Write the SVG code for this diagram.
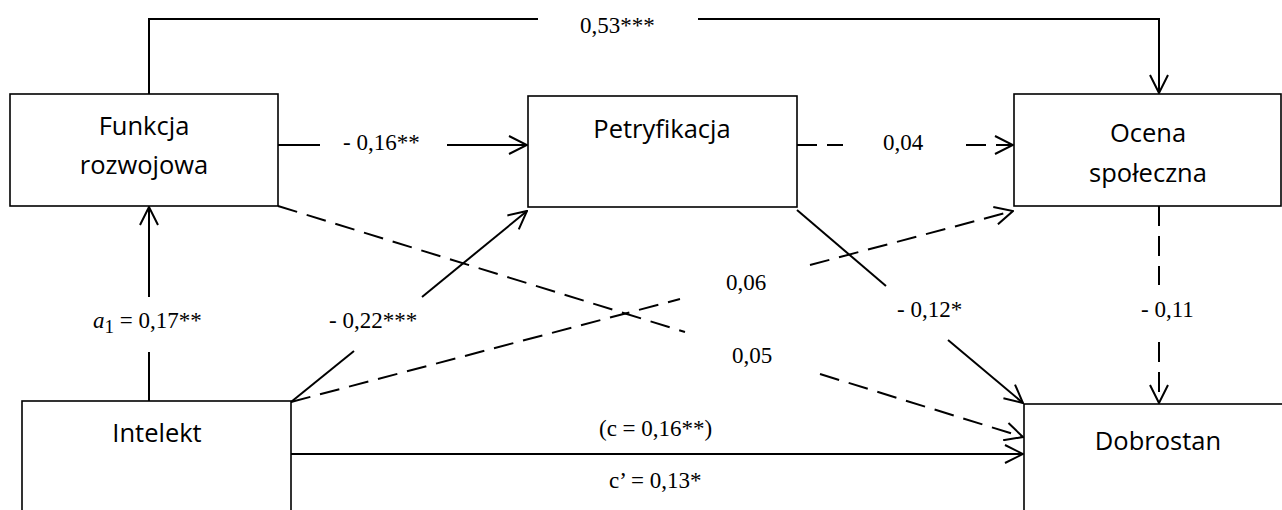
<svg xmlns="http://www.w3.org/2000/svg" width="1282" height="510" viewBox="0 0 1282 510">
<style>
.box{fill:#fff;stroke:#000;stroke-width:1.6}
.n{font-family:"Open Sans","Liberation Sans",sans-serif;font-size:25.5px;fill:#000;text-anchor:middle}
.l{font-family:"Liberation Serif","Times New Roman",serif;font-size:23px;fill:#000}
.c{fill:none;stroke:#000;stroke-width:2}
.d{fill:none;stroke:#000;stroke-width:2;stroke-dasharray:20 10}
</style>
<defs>
<marker id="ah" viewBox="0 0 20 20" refX="19" refY="10" markerWidth="20" markerHeight="20" markerUnits="userSpaceOnUse" orient="auto">
<path d="M1,1 L19,10 L1,19" fill="none" stroke="#000" stroke-width="2" stroke-dasharray="none"/>
</marker>
</defs>
<g id="connectors">
<path class="c" d="M149,94 V19 H538"/>
<path class="c" d="M698,19 H1159 V93" marker-end="url(#ah)"/>
<path class="c" d="M278,145 H320"/>
<path class="c" d="M447,145 H527" marker-end="url(#ah)"/>
<path class="d" d="M797,145 H843"/>
<path class="d" d="M966,145 H1013" marker-end="url(#ah)"/>
<path class="d" d="M278,206 L685,332"/>
<path class="d" d="M820,374 L1023,437" marker-end="url(#ah)"/>
<path class="d" d="M291,402 L680,299"/>
<path class="d" d="M810,265 L1013,211" marker-end="url(#ah)"/>
<path class="c" d="M291,402 L354,351"/>
<path class="c" d="M422,297 L527,211" marker-end="url(#ah)"/>
<path class="c" d="M797,210 L886,286"/>
<path class="c" d="M948,340 L1023,403" marker-end="url(#ah)"/>
<path class="d" d="M1159,206 V285"/>
<path class="d" d="M1159,342 V403" marker-end="url(#ah)"/>
<path class="c" d="M291,454 H1023" marker-end="url(#ah)"/>
<path class="c" d="M149,401 V352"/>
<path class="c" d="M149,297 V207" marker-end="url(#ah)"/>
</g>
<g id="labels">
<text class="l" x="580" y="33">0,53***</text>
<text class="l" x="343" y="150">- 0,16**</text>
<text class="l" x="883" y="150">0,04</text>
<text class="l" x="726" y="290">0,06</text>
<text class="l" x="732" y="363">0,05</text>
<text class="l" x="329" y="328">- 0,22***</text>
<text class="l" x="897" y="317">- 0,12*</text>
<text class="l" x="1141" y="317">- 0,11</text>
<text class="l" x="599" y="436">(c = 0,16**)</text>
<text class="l" x="609" y="488">c’ = 0,13*</text>
<text class="l" x="93" y="328"><tspan font-style="italic">a</tspan><tspan font-size="19" dy="5">1</tspan><tspan dy="-5"> = 0,17**</tspan></text>
</g>
<g id="funkcja">
<rect class="box" x="10" y="94" width="268" height="112"/>
<text class="n" x="144" y="135">Funkcja</text>
<text class="n" x="144" y="174">rozwojowa</text>
</g>
<g id="petryfikacja">
<rect class="box" x="528" y="96" width="269" height="111"/>
<text class="n" x="662" y="138">Petryfikacja</text>
</g>
<g id="ocena">
<rect class="box" x="1014" y="94" width="267" height="112"/>
<text class="n" x="1148" y="142">Ocena</text>
<text class="n" x="1148" y="182">społeczna</text>
</g>
<g id="intelekt">
<rect class="box" x="22" y="401" width="269" height="130"/>
<text class="n" x="157" y="442">Intelekt</text>
</g>
<g id="dobrostan">
<rect class="box" x="1024" y="404" width="268" height="130"/>
<text class="n" x="1158" y="450">Dobrostan</text>
</g>
</svg>
